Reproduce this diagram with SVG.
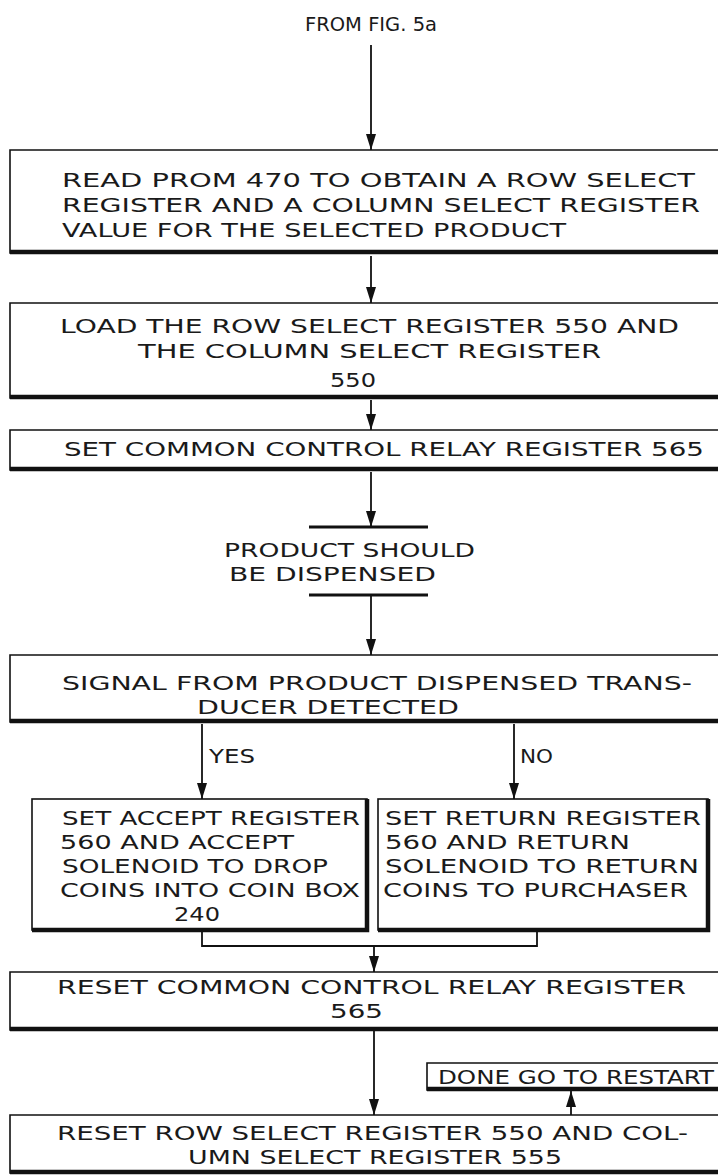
<svg xmlns="http://www.w3.org/2000/svg" width="718" height="1175" viewBox="0 0 718 1175">
<style>
text{font-family:"DejaVu Sans","Liberation Sans",Arial,sans-serif;font-size:20px;fill:#1a1a1a;}
.box{fill:none;stroke:#111;stroke-width:1.6;}
.sh{stroke:#111;stroke-width:4.5;fill:none;}
.ln{stroke:#111;stroke-width:1.8;fill:none;}
.bar{stroke:#111;stroke-width:3;}
</style>
<defs>
<marker id="ah" viewBox="0 0 16 10" refX="16" refY="5" markerWidth="16" markerHeight="10" markerUnits="userSpaceOnUse" orient="auto">
<path d="M0,0 L16,5 L0,10 Z" fill="#111"/>
</marker>
</defs>
<rect width="718" height="1175" fill="#fff"/>
<g id="connectors">
<line class="ln" x1="371" y1="45" x2="371" y2="150" marker-end="url(#ah)"/>
<line class="ln" x1="371" y1="256" x2="371" y2="303" marker-end="url(#ah)"/>
<line class="ln" x1="371" y1="400" x2="371" y2="430" marker-end="url(#ah)"/>
<line class="ln" x1="371" y1="472" x2="371" y2="527" marker-end="url(#ah)"/>
<line class="ln" x1="371" y1="595" x2="371" y2="655" marker-end="url(#ah)"/>
<line class="ln" x1="202" y1="724" x2="202" y2="799" marker-end="url(#ah)"/>
<line class="ln" x1="514" y1="724" x2="514" y2="799" marker-end="url(#ah)"/>
<polyline class="ln" points="202,932 202,946 537,946 537,932"/>
<line class="ln" x1="374" y1="946" x2="374" y2="972" marker-end="url(#ah)"/>
<line class="ln" x1="374" y1="1031" x2="374" y2="1115" marker-end="url(#ah)"/>
<line class="ln" x1="571" y1="1115" x2="571" y2="1091" marker-end="url(#ah)"/>
</g>
<g id="from">
<text x="305" y="31" textLength="132" lengthAdjust="spacingAndGlyphs" style="font-size:19px">FROM FIG. 5a</text>
</g>
<g id="n1">
<path class="box" d="M720,150 H10 V253 H720"/>
<line class="sh" x1="10" y1="252" x2="720" y2="252"/>
<text x="62" y="187" textLength="633" lengthAdjust="spacingAndGlyphs">READ PROM  470 TO OBTAIN A ROW SELECT</text>
<text x="62" y="212" textLength="638" lengthAdjust="spacingAndGlyphs">REGISTER AND A COLUMN SELECT REGISTER</text>
<text x="62" y="237" textLength="504" lengthAdjust="spacingAndGlyphs">VALUE FOR THE SELECTED PRODUCT</text>
</g>
<g id="n2">
<path class="box" d="M720,303 H10 V398 H720"/>
<line class="sh" x1="10" y1="397" x2="720" y2="397"/>
<text x="60" y="333" textLength="619" lengthAdjust="spacingAndGlyphs">LOAD THE ROW SELECT REGISTER 550 AND</text>
<text x="138" y="358" textLength="463" lengthAdjust="spacingAndGlyphs">THE COLUMN SELECT REGISTER</text>
<text x="330" y="387" textLength="46" lengthAdjust="spacingAndGlyphs">550</text>
</g>
<g id="n3">
<path class="box" d="M720,430 H10 V470 H720"/>
<line class="sh" x1="10" y1="469" x2="720" y2="469"/>
<text x="64" y="456" textLength="640" lengthAdjust="spacingAndGlyphs">SET COMMON  CONTROL RELAY REGISTER 565</text>
</g>
<g id="n4">
<line class="bar" x1="309" y1="527" x2="428" y2="527"/>
<line class="bar" x1="309" y1="595" x2="428" y2="595"/>
<text x="224" y="557" textLength="251" lengthAdjust="spacingAndGlyphs">PRODUCT SHOULD</text>
<text x="229" y="581" textLength="207" lengthAdjust="spacingAndGlyphs">BE DISPENSED</text>
</g>
<g id="n5">
<path class="box" d="M720,655 H10 V722 H720"/>
<line class="sh" x1="10" y1="721" x2="720" y2="721"/>
<text x="62" y="690" textLength="630" lengthAdjust="spacingAndGlyphs">SIGNAL FROM  PRODUCT DISPENSED TRANS-</text>
<text x="197" y="714" textLength="262" lengthAdjust="spacingAndGlyphs">DUCER DETECTED</text>
<text x="209" y="763" textLength="46" lengthAdjust="spacingAndGlyphs">YES</text>
<text x="520" y="763" textLength="33" lengthAdjust="spacingAndGlyphs">NO</text>
</g>
<g id="n6">
<rect class="box" x="32" y="799" width="335" height="131"/>
<path class="sh" d="M32,930 H367 V799"/>
<text x="62" y="825" textLength="298" lengthAdjust="spacingAndGlyphs">SET ACCEPT REGISTER</text>
<text x="60" y="849" textLength="234" lengthAdjust="spacingAndGlyphs">560 AND ACCEPT</text>
<text x="62" y="873" textLength="266" lengthAdjust="spacingAndGlyphs">SOLENOID TO DROP</text>
<text x="60" y="897" textLength="300" lengthAdjust="spacingAndGlyphs">COINS  INTO COIN BOX</text>
<text x="174" y="921" textLength="46" lengthAdjust="spacingAndGlyphs">240</text>
</g>
<g id="n7">
<rect class="box" x="378" y="799" width="330" height="131"/>
<path class="sh" d="M378,930 H708 V799"/>
<text x="385" y="825" textLength="316" lengthAdjust="spacingAndGlyphs">SET RETURN REGISTER</text>
<text x="385" y="849" textLength="245" lengthAdjust="spacingAndGlyphs">560 AND RETURN</text>
<text x="385" y="873" textLength="314" lengthAdjust="spacingAndGlyphs">SOLENOID  TO RETURN</text>
<text x="383" y="897" textLength="305" lengthAdjust="spacingAndGlyphs">COINS  TO PURCHASER</text>
</g>
<g id="n8">
<path class="box" d="M720,972 H10 V1030 H720"/>
<line class="sh" x1="10" y1="1029" x2="720" y2="1029"/>
<text x="57" y="994" textLength="629" lengthAdjust="spacingAndGlyphs">RESET COMMON  CONTROL RELAY REGISTER</text>
<text x="330" y="1018" textLength="53" lengthAdjust="spacingAndGlyphs">565</text>
</g>
<g id="n9">
<path class="box" d="M720,1063 H427 V1090 H720"/>
<line class="sh" x1="427" y1="1089" x2="720" y2="1089"/>
<text x="438" y="1084" textLength="276" lengthAdjust="spacingAndGlyphs">DONE GO TO RESTART</text>
</g>
<g id="n10">
<path class="box" d="M720,1115 H10 V1173 H720"/>
<line class="sh" x1="10" y1="1172" x2="720" y2="1172"/>
<text x="57" y="1140" textLength="631" lengthAdjust="spacingAndGlyphs">RESET ROW SELECT  REGISTER 550  AND COL-</text>
<text x="188" y="1164" textLength="374" lengthAdjust="spacingAndGlyphs">UMN SELECT REGISTER 555</text>
</g>
</svg>
